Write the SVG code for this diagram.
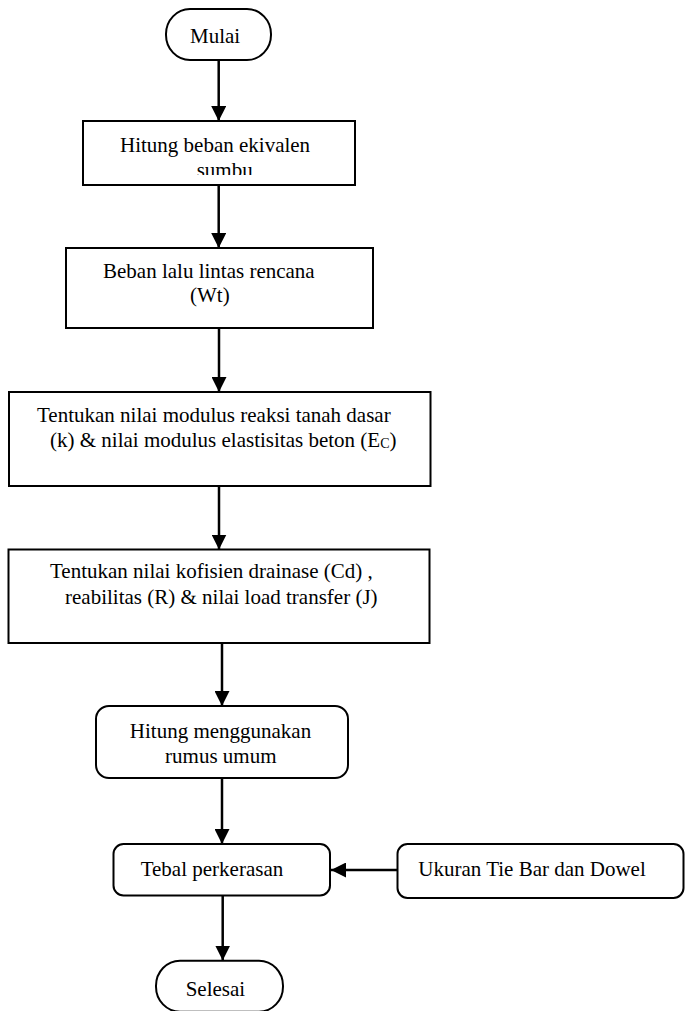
<svg xmlns="http://www.w3.org/2000/svg" width="685" height="1011" viewBox="0 0 685 1011">
<style>
.box{fill:#fff;stroke:#000;stroke-width:2}
.t{font-family:"Liberation Serif","Times New Roman",serif;font-size:21px;fill:#000}
.sub{font-size:14px}
.conn line{stroke:#000;stroke-width:2.5}
</style>
<defs>
<marker id="ah" markerUnits="userSpaceOnUse" markerWidth="16" markerHeight="15" refX="15" refY="7.5" orient="auto">
<path d="M0,0 L15,7.5 L0,15 z" fill="#000"/>
</marker>
<clipPath id="clip2"><rect x="83" y="121" width="272" height="54"/></clipPath>
</defs>
<rect width="685" height="1011" fill="#fff"/>
<g class="conn">
<line x1="218.7" y1="60" x2="218.7" y2="121" marker-end="url(#ah)"/>
<line x1="218.7" y1="185" x2="218.7" y2="248" marker-end="url(#ah)"/>
<line x1="219" y1="328" x2="219" y2="392" marker-end="url(#ah)"/>
<line x1="219" y1="486" x2="219" y2="549.5" marker-end="url(#ah)"/>
<line x1="222" y1="643" x2="222" y2="706" marker-end="url(#ah)"/>
<line x1="222" y1="778" x2="222" y2="844" marker-end="url(#ah)"/>
<line x1="222.7" y1="895.5" x2="222.7" y2="960.5" marker-end="url(#ah)"/>
<line x1="397.5" y1="870" x2="331" y2="870" marker-end="url(#ah)"/>
</g>
<g id="mulai">
<rect class="box" x="166" y="9" width="105" height="51" rx="24" ry="25"/>
<text class="t" x="190" y="43.3">Mulai</text>
</g>
<g id="hitung-beban">
<rect class="box" x="83" y="121" width="272" height="64"/>
<text class="t" x="120" y="151.7">Hitung beban ekivalen</text>
<text class="t" x="196.7" y="176.7" clip-path="url(#clip2)">sumbu</text>
</g>
<g id="beban-lalu-lintas">
<rect class="box" x="66" y="248" width="307" height="80"/>
<text class="t" x="103" y="278">Beban lalu lintas rencana</text>
<text class="t" x="190" y="302">(Wt)</text>
</g>
<g id="modulus">
<rect class="box" x="9" y="392" width="421.5" height="94"/>
<text class="t" x="37" y="421.7">Tentukan nilai modulus reaksi tanah dasar</text>
<text class="t" x="50" y="446.7">(k) &amp; nilai modulus elastisitas beton (E<tspan class="sub" dy="1">C</tspan><tspan dy="-1">)</tspan></text>
</g>
<g id="drainase">
<rect class="box" x="8.5" y="549.5" width="421" height="93.5"/>
<text class="t" x="50" y="578.3">Tentukan nilai kofisien drainase (Cd) ,</text>
<text class="t" x="65" y="604">reabilitas (R) &amp; nilai load transfer (J)</text>
</g>
<g id="rumus">
<rect class="box" x="96" y="706" width="252" height="72" rx="13"/>
<text class="t" x="129.8" y="738.3">Hitung menggunakan</text>
<text class="t" x="165.1" y="763.3">rumus umum</text>
</g>
<g id="tebal">
<rect class="box" x="113.5" y="844" width="216.5" height="51.5" rx="10"/>
<text class="t" x="140.7" y="875.5">Tebal perkerasan</text>
</g>
<g id="ukuran">
<rect class="box" x="397.5" y="844" width="286" height="54" rx="10"/>
<text class="t" x="418.3" y="876">Ukuran Tie Bar dan Dowel</text>
</g>
<g id="selesai">
<rect class="box" x="156" y="960.7" width="127" height="51" rx="24" ry="25"/>
<text class="t" x="185.7" y="995.7">Selesai</text>
</g>
</svg>
